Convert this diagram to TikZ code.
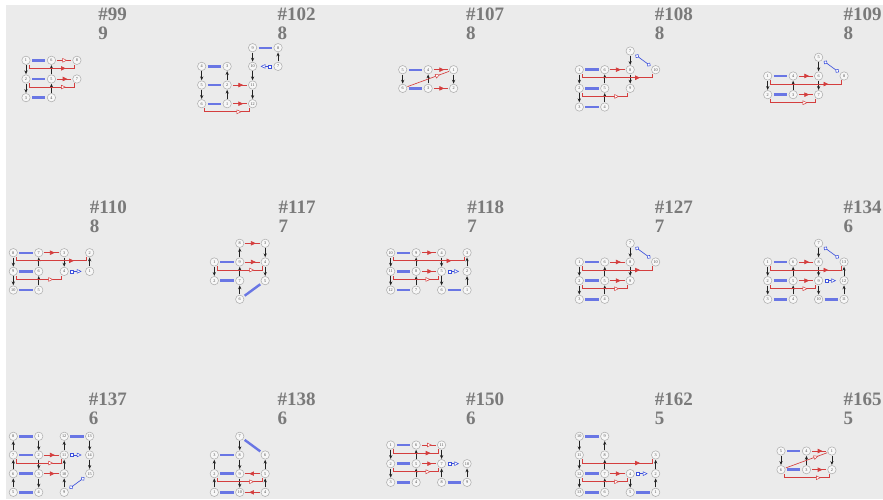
\documentclass[tikz,border=0pt]{standalone}
\usepackage{fontspec}
\setmainfont{Liberation Serif}
\usetikzlibrary{arrows.meta,decorations.markings,calc}
\definecolor{bg}{RGB}{235,235,235}
\definecolor{ndfill}{RGB}{247,247,247}
\definecolor{ndline}{RGB}{175,175,175}
\definecolor{ndtext}{RGB}{70,70,70}
\definecolor{bluebar}{RGB}{105,118,228}
\definecolor{bluel}{RGB}{60,80,220}
\definecolor{redc}{RGB}{212,62,62}
\definecolor{titlec}{RGB}{122,122,122}
\definecolor{arrc}{RGB}{35,35,35}
\tikzset{
  nd/.style={circle,draw=ndline,fill=ndfill,line width=0.55pt,minimum size=8.4pt,inner sep=0pt,font=\fontsize{4.2}{4.2}\selectfont,text=ndtext},
  bbar/.style={draw=bluebar,line width=2.4pt,shorten <=1.6pt,shorten >=1.6pt},
  karr/.style={draw=arrc,line width=0.7pt,-{Stealth[length=3.8pt,width=3.2pt]},shorten <=0.6pt,shorten >=0.3pt},
  rline/.style={draw=redc,line width=0.65pt},
  rf/.style={rline,shorten <=1.2pt,shorten >=1.2pt,postaction={decorate},decoration={markings,mark=at position 0.7 with {\arrow[redc]{Triangle[length=4.8pt,width=4.4pt]}}}},
  ro/.style={rline,shorten <=1.2pt,shorten >=1.2pt,postaction={decorate},decoration={markings,mark=at position 0.68 with {\arrow[redc]{Triangle[length=4.8pt,width=4.4pt,fill=white,line width=0.5pt]}}}},
  rdo/.style={rline,shorten <=0.5pt,shorten >=0.5pt,postaction={decorate},decoration={markings,mark=at position 0.78 with {\arrow[redc]{Triangle[length=4.8pt,width=4.4pt,fill=white,line width=0.5pt]}}}},
  bsq/.style={draw=bluel,line width=0.65pt,{Square[length=3.6pt,width=3.6pt,fill=white,line width=0.55pt]}-{Triangle[length=4.8pt,width=4.4pt,fill=white,line width=0.55pt]},shorten <=1.6pt,shorten >=3.5pt},
  bci/.style={draw=bluel,line width=0.65pt,{Circle[length=4.2pt,width=4.2pt,fill=white,line width=0.55pt]}-{Circle[length=4.2pt,width=4.2pt,fill=white,line width=0.55pt]},shorten <=2pt,shorten >=2pt},
  tt/.style={font=\fontsize{19}{19}\selectfont\bfseries,text=titlec,inner sep=0pt},
}
\newcommand\setp[3]{\def\pid{#1}\def\ox{#2}\def\oy{#3}}
\newcommand\gN[3]{\node[nd] (\pid n#1) at ({\ox+25.45*#2},{\oy+18.67*#3}) {#1};}
\newcommand\gK[2]{\draw[karr] (\pid n#1) -- (\pid n#2);}
\newcommand\gB[2]{\draw[bbar] (\pid n#1) -- (\pid n#2);}
\newcommand\gRF[2]{\draw[rf] (\pid n#1) -- (\pid n#2);}
\newcommand\gRO[2]{\draw[ro] (\pid n#1) -- (\pid n#2);}
\newcommand\gRD[2]{\draw[rdo] (\pid n#1) -- (\pid n#2);}
\newcommand\gSQ[2]{\draw[bsq] (\pid n#1) -- (\pid n#2);}
\newcommand\gCI[2]{\draw[bci] (\pid n#1) -- (\pid n#2);}
\newcommand\gbrk[3]{%
  \draw[rline] ($(\pid n#1.south)+(3pt,0pt)$) -- ++(0pt,-3.6pt) -- ($(\pid n#2.south)+(-3pt,-3.6pt)$) -- ++(0pt,3.6pt);
  \draw[rline,postaction={decorate},decoration={markings,mark=at position 0.82 with {\arrow[redc]{#3}}}] ($(\pid n#1.south)+(3pt,-3.6pt)$) -- ($(\pid n#2.south)+(-3pt,-3.6pt)$);}
\newcommand\gBF[2]{\gbrk{#1}{#2}{Triangle[length=4.8pt,width=4.4pt]}}
\newcommand\gBO[2]{\gbrk{#1}{#2}{Triangle[length=4.8pt,width=4.4pt,fill=white,line width=0.5pt]}}
\newcommand\ttl[4]{%
  \node[tt,anchor=base east] (tt#3) at (#1,#2) {\##3};
  \node[tt,anchor=base west] (ts#3) at ($(tt#3.base west)+(0pt,-19pt)$) {#4};}
\begin{document}
\begin{tikzpicture}[x=1pt,y=-1pt]
\useasboundingbox (0,0) rectangle (883,499);
\fill[white] (0,0) rectangle (883,499);
\fill[bg] (6,5) rectangle (883,499);
% titles
\ttl{127}{20}{99}{9}
\ttl{315.7}{20}{102}{8}
\ttl{504.4}{20}{107}{8}
\ttl{693.1}{20}{108}{8}
\ttl{881.8}{20}{109}{8}
\ttl{127}{213}{110}{8}
\ttl{315.7}{213}{117}{7}
\ttl{504.4}{213}{118}{7}
\ttl{693.1}{213}{127}{7}
\ttl{881.8}{213}{134}{6}
\ttl{127}{405}{137}{6}
\ttl{315.7}{405}{138}{6}
\ttl{504.4}{405}{150}{6}
\ttl{693.1}{405}{162}{5}
\ttl{881.8}{405}{165}{5}
% #99
\setp{a}{26}{60.3}
\gN{1}{0}{0}\gN{6}{1}{0}\gN{8}{2}{0}
\gN{2}{0}{1}\gN{5}{1}{1}\gN{7}{2}{1}
\gN{3}{0}{2}\gN{4}{1}{2}
\gB{1}{6}\gB{2}{5}\gB{3}{4}
\gK{1}{2}\gK{2}{3}\gK{5}{6}\gK{4}{5}
\gRO{6}{8}\gRF{5}{7}
\gBF{1}{8}\gBO{2}{7}
% #102
\setp{b}{201.7}{47.7}
\gN{9}{2}{0}\gN{8}{3}{0}
\gN{4}{0}{1}\gN{3}{1}{1}\gN{10}{2}{1}\gN{7}{3}{1}
\gN{5}{0}{2}\gN{2}{1}{2}\gN{11}{2}{2}
\gN{6}{0}{3}\gN{1}{1}{3}\gN{12}{2}{3}
\gB{4}{3}\gB{5}{2}\gB{6}{1}\gB{9}{8}
\gK{4}{5}\gK{5}{6}\gK{1}{2}\gK{2}{3}\gK{9}{10}\gK{10}{11}\gK{11}{12}\gK{7}{8}
\gSQ{7}{10}
\gRF{2}{11}\gRF{1}{12}
\gBO{6}{12}
% #107
\setp{c}{402.7}{69.7}
\gN{5}{0}{0}\gN{4}{1}{0}\gN{1}{2}{0}
\gN{6}{0}{1}\gN{3}{1}{1}\gN{2}{2}{1}
\gB{5}{4}\gB{6}{3}
\gK{5}{6}\gK{3}{4}\gK{1}{2}
\gRF{4}{1}\gRF{3}{2}\gRD{6}{1}
% #108
\setp{d}{579.3}{51}
\gN{7}{2}{0}
\gN{1}{0}{1}\gN{6}{1}{1}\gN{8}{2}{1}\gN{10}{3}{1}
\gN{2}{0}{2}\gN{5}{1}{2}\gN{9}{2}{2}
\gN{3}{0}{3}\gN{4}{1}{3}
\gB{1}{6}\gB{2}{5}\gB{3}{4}
\gK{1}{2}\gK{2}{3}\gK{4}{5}\gK{5}{6}\gK{7}{8}\gK{8}{9}
\gRF{6}{8}
\gBF{1}{10}\gBO{2}{9}
\gCI{7}{10}
% #109
\setp{e}{767.7}{57.3}
\gN{5}{2}{0}
\gN{1}{0}{1}\gN{4}{1}{1}\gN{6}{2}{1}\gN{8}{3}{1}
\gN{2}{0}{2}\gN{3}{1}{2}\gN{7}{2}{2}
\gB{1}{4}\gB{2}{3}
\gK{1}{2}\gK{3}{4}\gK{5}{6}\gK{6}{7}
\gRF{4}{6}\gRF{3}{7}
\gBF{1}{8}\gBO{2}{7}
\gCI{5}{8}
% #110
\setp{f}{13.3}{252.7}
\gN{8}{0}{0}\gN{7}{1}{0}\gN{3}{2}{0}\gN{2}{3}{0}
\gN{9}{0}{1}\gN{6}{1}{1}\gN{4}{2}{1}\gN{1}{3}{1}
\gN{10}{0}{2}\gN{5}{1}{2}
\gB{8}{7}\gB{9}{6}\gB{10}{5}
\gK{8}{9}\gK{9}{10}\gK{5}{6}\gK{6}{7}\gK{3}{4}\gK{1}{2}
\gRF{7}{3}
\gBF{8}{2}\gBO{9}{4}
\gSQ{4}{1}
% #117
\setp{g}{214.3}{243.3}
\gN{8}{1}{0}\gN{3}{2}{0}
\gN{1}{0}{1}\gN{9}{1}{1}\gN{4}{2}{1}
\gN{2}{0}{2}\gN{7}{1}{2}\gN{5}{2}{2}
\gN{6}{1}{3}
\gB{1}{9}\gB{2}{7}\gB{6}{5}
\gK{1}{2}\gK{6}{7}\gK{7}{9}\gK{9}{8}\gK{3}{4}\gK{4}{5}
\gRF{8}{3}\gRF{9}{4}
\gBO{1}{4}
% #118
\setp{h}{390.7}{252.7}
\gN{10}{0}{0}\gN{9}{1}{0}\gN{4}{2}{0}\gN{3}{3}{0}
\gN{11}{0}{1}\gN{8}{1}{1}\gN{5}{2}{1}\gN{2}{3}{1}
\gN{12}{0}{2}\gN{7}{1}{2}\gN{6}{2}{2}\gN{1}{3}{2}
\gB{10}{9}\gB{11}{8}\gB{12}{7}\gB{6}{1}
\gK{10}{11}\gK{11}{12}\gK{7}{8}\gK{8}{9}\gK{4}{5}\gK{5}{6}\gK{1}{2}\gK{2}{3}
\gRF{9}{4}\gRF{8}{5}
\gBF{10}{3}\gBO{11}{5}
\gSQ{5}{2}
% #127
\setp{i}{579.3}{243.3}
\gN{7}{2}{0}
\gN{1}{0}{1}\gN{6}{1}{1}\gN{8}{2}{1}\gN{10}{3}{1}
\gN{2}{0}{2}\gN{5}{1}{2}\gN{9}{2}{2}
\gN{3}{0}{3}\gN{4}{1}{3}
\gB{1}{6}\gB{2}{5}\gB{3}{4}
\gK{1}{2}\gK{2}{3}\gK{4}{5}\gK{5}{6}\gK{7}{8}\gK{8}{9}
\gRF{6}{8}\gRF{5}{9}
\gBF{1}{10}\gBO{2}{9}
\gCI{7}{10}
% #134
\setp{j}{767.7}{243.3}
\gN{7}{2}{0}
\gN{1}{0}{1}\gN{6}{1}{1}\gN{8}{2}{1}\gN{13}{3}{1}
\gN{2}{0}{2}\gN{5}{1}{2}\gN{9}{2}{2}\gN{12}{3}{2}
\gN{3}{0}{3}\gN{4}{1}{3}\gN{10}{2}{3}\gN{11}{3}{3}
\gB{1}{6}\gB{2}{5}\gB{3}{4}\gB{10}{11}
\gK{1}{2}\gK{2}{3}\gK{4}{5}\gK{5}{6}\gK{7}{8}\gK{8}{9}\gK{9}{10}\gK{11}{12}\gK{12}{13}
\gRF{6}{8}\gRF{5}{9}
\gBF{1}{13}\gBO{2}{9}
\gCI{7}{13}\gSQ{9}{12}
% #137
\setp{k}{13.3}{436.3}
\gN{8}{0}{0}\gN{1}{1}{0}\gN{12}{2}{0}\gN{13}{3}{0}
\gN{7}{0}{1}\gN{2}{1}{1}\gN{11}{2}{1}\gN{14}{3}{1}
\gN{6}{0}{2}\gN{3}{1}{2}\gN{10}{2}{2}\gN{15}{3}{2}
\gN{5}{0}{3}\gN{4}{1}{3}\gN{9}{2}{3}
\gB{8}{1}\gB{7}{2}\gB{6}{3}\gB{5}{4}\gB{12}{13}
\gK{5}{6}\gK{6}{7}\gK{7}{8}\gK{1}{2}\gK{2}{3}\gK{3}{4}\gK{9}{10}\gK{10}{11}\gK{11}{12}\gK{13}{14}\gK{14}{15}
\gRF{2}{11}\gRF{3}{10}
\gBO{7}{11}
\gSQ{11}{14}\gCI{9}{15}
% #138
\setp{l}{214.3}{436.3}
\gN{7}{1}{0}
\gN{3}{0}{1}\gN{8}{1}{1}\gN{6}{2}{1}
\gN{2}{0}{2}\gN{9}{1}{2}\gN{5}{2}{2}
\gN{1}{0}{3}\gN{10}{1}{3}\gN{4}{2}{3}
\gB{3}{8}\gB{2}{9}\gB{1}{10}\gB{7}{6}
\gK{1}{2}\gK{2}{3}\gK{7}{8}\gK{8}{9}\gK{9}{10}\gK{4}{5}\gK{5}{6}
\gRF{5}{9}\gRF{4}{10}
\gBO{2}{5}
% #150 (provisional)
\setp{m}{390.7}{445}
\gN{1}{0}{0}\gN{6}{1}{0}\gN{11}{2}{0}
\gN{2}{0}{1}\gN{5}{1}{1}\gN{7}{2}{1}\gN{10}{3}{1}
\gN{3}{0}{2}\gN{4}{1}{2}\gN{8}{2}{2}\gN{9}{3}{2}
\gB{1}{6}\gB{2}{5}\gB{3}{4}\gB{8}{9}
\gK{1}{2}\gK{2}{3}\gK{4}{5}\gK{5}{6}\gK{11}{7}\gK{8}{7}\gK{9}{10}
\gRO{6}{11}\gRF{5}{7}
\gBF{1}{11}\gBO{2}{7}
\gSQ{7}{10}
% #162 (provisional)
\setp{n}{579.3}{436.3}
\gN{10}{0}{0}\gN{9}{1}{0}
\gN{11}{0}{1}\gN{8}{1}{1}\gN{3}{3}{1}
\gN{12}{0}{2}\gN{7}{1}{2}\gN{4}{2}{2}\gN{2}{3}{2}
\gN{13}{0}{3}\gN{6}{1}{3}\gN{5}{2}{3}\gN{1}{3}{3}
\gB{10}{9}\gB{12}{7}\gB{13}{6}\gB{5}{1}
\gK{10}{11}\gK{11}{12}\gK{12}{13}\gK{6}{7}\gK{7}{8}\gK{8}{9}\gK{4}{5}\gK{1}{2}\gK{2}{3}
\gRF{7}{4}
\gBF{11}{3}\gBO{12}{4}
\gSQ{4}{2}
% #165 (provisional)
\setp{o}{781}{451}
\gN{5}{0}{0}\gN{4}{1}{0}\gN{1}{2}{0}
\gN{6}{0}{1}\gN{3}{1}{1}\gN{2}{2}{1}
\gB{5}{4}\gB{6}{3}
\gK{5}{6}\gK{3}{4}\gK{1}{2}
\gRF{4}{1}\gRF{3}{2}\gRD{6}{1}
\gBO{6}{2}
\end{tikzpicture}
\end{document}
